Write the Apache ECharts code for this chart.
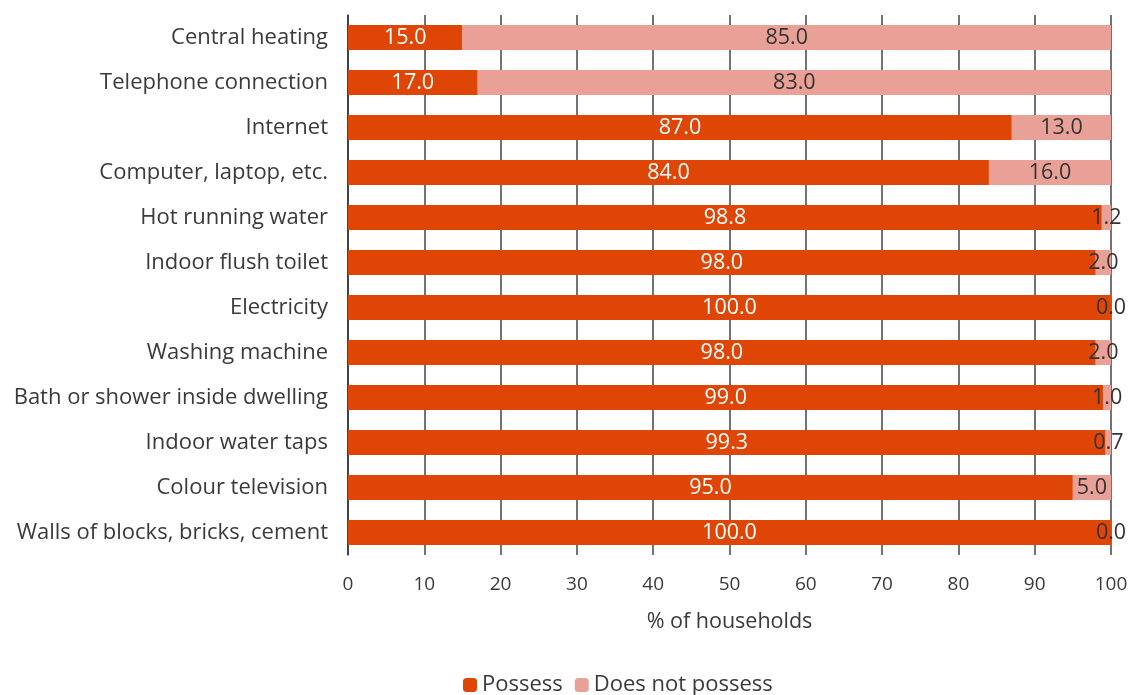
<!DOCTYPE html>
<html><head><meta charset="utf-8">
<script src="https://cdn.jsdelivr.net/npm/echarts@6/dist/echarts.min.js"></script>
<style>html,body{margin:0;padding:0;background:#fff}#c{width:1133px;height:695px}</style>
</head><body><div id="c"></div>
<script>
const categories = ["Central heating","Telephone connection","Internet","Computer, laptop, etc.","Hot running water","Indoor flush toilet","Electricity","Washing machine","Bath or shower inside dwelling","Indoor water taps","Colour television","Walls of blocks, bricks, cement"];
const possess = [15.0,17.0,87.0,84.0,98.8,98.0,100.0,98.0,99.0,99.3,95.0,100.0];
const notPossess = [85.0,83.0,13.0,16.0,1.2,2.0,0.0,2.0,1.0,0.7,5.0,0.0];
const xTicks = [0,10,20,30,40,50,60,70,80,90,100];

const FONT = '"Open Sans"';
const TXT = '#3a3a3a';
const chart = echarts.init(document.getElementById('c'));
chart.setOption({
  animation:false,
  textStyle:{fontFamily:FONT},
  grid:{left:348,right:22,top:15,bottom:140,containLabel:false},
  legend:{bottom:-6,left:458,itemWidth:14,itemHeight:14,itemGap:12,
    textStyle:{fontSize:22,color:TXT,fontFamily:FONT},
    data:['Possess','Does not possess']},
  xAxis:{type:'value',min:xTicks[0],max:xTicks[xTicks.length-1],interval:10,
    name:'% of households',nameLocation:'middle',nameGap:56,
    nameTextStyle:{fontSize:21.5,color:TXT,fontFamily:FONT},
    axisLine:{show:false},axisTick:{show:false},
    axisLabel:{fontSize:19,color:TXT,margin:20,fontFamily:FONT},
    splitLine:{show:true,lineStyle:{color:'#444',width:1.5}}},
  yAxis:{type:'category',data:categories,inverse:true,
    axisLine:{show:true,lineStyle:{color:'#333',width:1.5}},axisTick:{show:false},
    axisLabel:{fontSize:22,color:TXT,margin:20,fontFamily:FONT}},
  series:[
    {name:'Possess',type:'bar',stack:'a',data:possess,barWidth:25,
     itemStyle:{color:'#DF4505'},
     label:{show:true,position:'inside',color:'#fff',fontSize:21.5,fontFamily:FONT,formatter:p=>p.value.toFixed(1)}},
    {name:'Does not possess',type:'bar',stack:'a',data:notPossess,barWidth:25,
     itemStyle:{color:'#E8A097'},
     label:{show:true,position:'inside',color:'#333',fontSize:21.5,fontFamily:FONT,formatter:p=>p.value.toFixed(1)}}
  ]
});
</script></body></html>
